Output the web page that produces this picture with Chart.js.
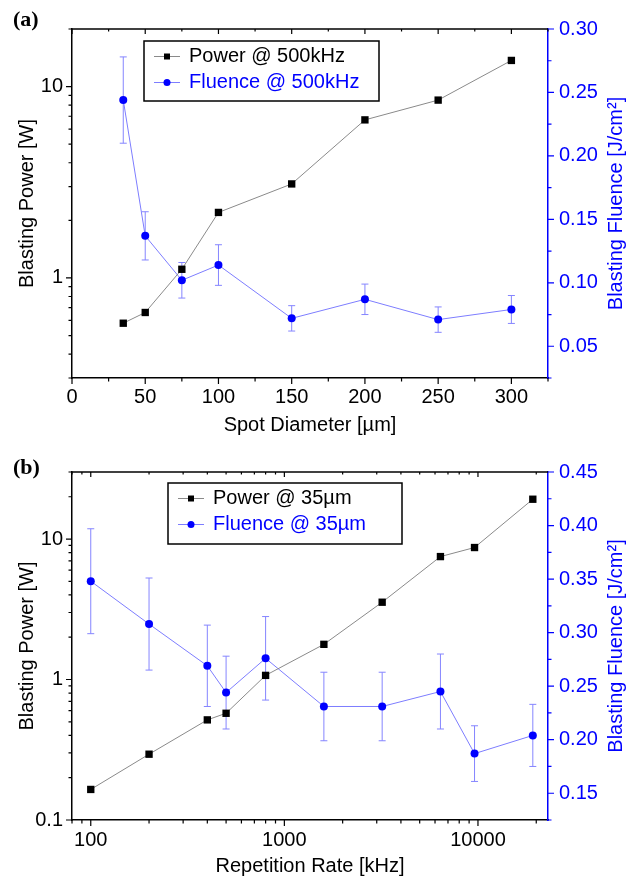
<!DOCTYPE html>
<html>
<head>
<meta charset="utf-8">
<script src="https://cdn.jsdelivr.net/npm/chart.js"></script>
<style>
  html, body { margin: 0; padding: 0; background: #fff; }
  canvas { display: block; }
</style>
</head>
<body>
<canvas id="chartA" width="637" height="439"></canvas>
<canvas id="chartB" width="637" height="439"></canvas>
<script>
// (a) spot diameter sweep @ 500kHz
const spotDiameters = [35, 50, 75, 100, 150, 200, 250, 300];
const powerA = [0.58, 0.66, 1.11, 2.2, 3.1, 6.7, 8.5, 13.7];
const fluenceA = [0.244, 0.137, 0.102, 0.114, 0.072, 0.087, 0.071, 0.079];
const fluenceErrA = [0.034, 0.019, 0.014, 0.016, 0.010, 0.012, 0.010, 0.011];

// (b) repetition rate sweep @ 35um
const repRates = [100, 200, 400, 500, 800, 1600, 3200, 6400, 9600, 19200];
const powerB = [0.165, 0.294, 0.516, 0.575, 1.07, 1.78, 3.55, 7.5, 8.7, 19.2];
const fluenceB = [0.348, 0.308, 0.269, 0.244, 0.276, 0.231, 0.231, 0.245, 0.187, 0.204];
const fluenceErrB = [0.049, 0.043, 0.038, 0.034, 0.039, 0.032, 0.032, 0.035, 0.026, 0.029];

// tick labels
const spotTicks = [0, 50, 100, 150, 200, 250, 300];
const powerTicksA = [1, 10];
const fluenceTicksA = [0.05, 0.10, 0.15, 0.20, 0.25, 0.30];
const rateTicks = [100, 1000, 10000];
const powerTicksB = [0.1, 1, 10];
const fluenceTicksB = [0.15, 0.20, 0.25, 0.30, 0.35, 0.40, 0.45];

const BLUE = '#0000ff';
Chart.defaults.font.family = "'Liberation Sans', Arial, sans-serif";
Chart.defaults.font.size = 20;
Chart.defaults.color = '#000';

function labelFrom(list, fmt) {
  return function (value) {
    const hit = list.find(l => Math.abs(l - value) < 1e-6 * Math.max(1, Math.abs(l)));
    return hit === undefined ? '' : fmt(hit);
  };
}

// only 1..9 x 10^n on the log axes
function wholeLogTicks(scale) {
  scale.ticks = scale.ticks.filter(t => {
    const m = t.value / Math.pow(10, Math.floor(Math.log10(t.value) + 1e-9));
    return Math.abs(m - Math.round(m)) < 1e-6;
  });
}

// error bars under the fluence points
const errorBars = {
  id: 'errorBars',
  beforeDatasetsDraw(chart) {
    const ctx = chart.ctx;
    chart.data.datasets.forEach((ds, di) => {
      if (!ds.errors) return;
      const ys = chart.scales[ds.yAxisID];
      const meta = chart.getDatasetMeta(di);
      ctx.save();
      ctx.strokeStyle = '#8585ff';
      ctx.lineWidth = 1;
      ctx.beginPath();
      meta.data.forEach((pt, i) => {
        const v = ds.data[i].y, e = ds.errors[i];
        const top = ys.getPixelForValue(v + e), bot = ys.getPixelForValue(v - e);
        ctx.moveTo(pt.x, top); ctx.lineTo(pt.x, bot);
        ctx.moveTo(pt.x - 3.5, top); ctx.lineTo(pt.x + 3.5, top);
        ctx.moveTo(pt.x - 3.5, bot); ctx.lineTo(pt.x + 3.5, bot);
      });
      ctx.stroke();
      ctx.restore();
    });
  }
};

// tick marks, top frame, legend box, right title, panel letter
const frame = {
  id: 'frame',
  afterDraw(chart, args, opts) {
    const { ctx, chartArea: a, scales } = chart;
    const len = t => (t.label !== '' ? 6 : 3.5);
    ctx.save();
    ctx.lineWidth = 1.2;
    ctx.strokeStyle = '#000';
    ctx.beginPath();
    scales.x.ticks.forEach(t => {
      const px = scales.x.getPixelForValue(t.value);
      ctx.moveTo(px, a.bottom); ctx.lineTo(px, a.bottom + len(t));
      ctx.moveTo(px, a.top); ctx.lineTo(px, a.top + len(t) - 1);
    });
    scales.y.ticks.forEach(t => {
      const py = scales.y.getPixelForValue(t.value);
      ctx.moveTo(a.left - len(t), py); ctx.lineTo(a.left, py);
    });
    ctx.stroke();
    ctx.lineWidth = 1.5;
    ctx.beginPath();
    ctx.moveTo(a.left, a.top); ctx.lineTo(a.right, a.top);
    ctx.stroke();

    ctx.strokeStyle = BLUE;
    ctx.lineWidth = 1.2;
    ctx.beginPath();
    scales.y1.ticks.forEach(t => {
      const py = scales.y1.getPixelForValue(t.value);
      ctx.moveTo(a.right, py); ctx.lineTo(a.right + len(t), py);
    });
    ctx.stroke();

    // legend
    const bx = a.left + opts.legend.dx, by = a.top + opts.legend.dy;
    ctx.fillStyle = '#fff';
    ctx.fillRect(bx, by, opts.legend.w, opts.legend.h);
    ctx.strokeStyle = '#000';
    ctx.lineWidth = 1.5;
    ctx.strokeRect(bx, by, opts.legend.w, opts.legend.h);
    ctx.font = "20px 'Liberation Sans', Arial, sans-serif";
    ctx.textBaseline = 'middle';
    ctx.textAlign = 'left';
    chart.data.datasets.forEach((ds, i) => {
      const cy = by + 15.5 + i * 26;
      ctx.strokeStyle = ds.borderColor;
      ctx.lineWidth = 1;
      ctx.beginPath();
      ctx.moveTo(bx + 10, cy); ctx.lineTo(bx + 36, cy);
      ctx.stroke();
      ctx.fillStyle = ds.pointBackgroundColor;
      if (ds.pointStyle === 'rect') {
        ctx.fillRect(bx + 23 - 3, cy - 3, 6, 6);
      } else {
        ctx.beginPath();
        ctx.arc(bx + 23, cy, 3.5, 0, Math.PI * 2);
        ctx.fill();
      }
      ctx.fillText(ds.label, bx + 45, cy);
    });

    // right axis title, reads bottom-up
    ctx.save();
    ctx.translate(chart.width - 21, (a.top + a.bottom) / 2);
    ctx.rotate(-Math.PI / 2);
    ctx.textAlign = 'center';
    ctx.fillStyle = BLUE;
    ctx.fillText('Blasting Fluence [J/cm²]', 0, 0);
    ctx.restore();

    // panel letter
    ctx.font = "bold 22px 'Liberation Serif', 'Times New Roman', serif";
    ctx.textBaseline = 'alphabetic';
    ctx.fillStyle = '#000';
    ctx.fillText(opts.letter, 13, opts.letterY);
    ctx.restore();
  }
};

function axisTitle(text, pad) {
  return { display: true, text: text, color: '#000', font: { size: 20 }, padding: pad };
}

new Chart(document.getElementById('chartA'), {
  type: 'line',
  data: {
    datasets: [{
      label: 'Power @ 500kHz',
      data: spotDiameters.map((d, i) => ({ x: d, y: powerA[i] })),
      yAxisID: 'y',
      borderColor: '#8a8a8a',
      borderWidth: 1,
      pointStyle: 'rect',
      pointRadius: 5.2,
      pointBorderWidth: 0,
      pointBackgroundColor: '#000',
      pointBorderColor: '#000'
    }, {
      label: 'Fluence @ 500kHz',
      data: spotDiameters.map((d, i) => ({ x: d, y: fluenceA[i] })),
      errors: fluenceErrA,
      yAxisID: 'y1',
      borderColor: '#7d7dff',
      borderWidth: 1,
      pointStyle: 'circle',
      pointRadius: 4,
      pointBorderWidth: 0,
      pointBackgroundColor: BLUE,
      pointBorderColor: BLUE
    }]
  },
  options: {
    responsive: false,
    animation: false,
    events: [],
    layout: { padding: { top: 29, left: 0, right: 0, bottom: 0 } },
    plugins: {
      legend: { display: false },
      tooltip: { enabled: false },
      frame: { letter: '(a)', letterY: 26, legend: { dx: 72, dy: 12, w: 235, h: 60 } }
    },
    scales: {
      x: {
        type: 'linear', min: 0, max: 325,
        grid: { display: false, drawTicks: false },
        border: { color: '#000', width: 1.5 },
        ticks: { stepSize: 25, autoSkip: false, maxRotation: 0, padding: 7,
          callback: labelFrom(spotTicks, v => String(v)) },
        title: axisTitle('Spot Diameter [µm]', { top: 0, bottom: 2 }),
        afterFit: s => { s.height = 61; }
      },
      y: {
        type: 'logarithmic', position: 'left', min: 0.3, max: 20,
        grid: { display: false, drawTicks: false },
        border: { color: '#000', width: 1.5 },
        ticks: { autoSkip: false, padding: 9,
          callback: labelFrom(powerTicksA, v => String(v)) },
        title: axisTitle('Blasting Power [W]', { top: 15, bottom: 0 }),
        afterBuildTicks: wholeLogTicks,
        afterFit: s => { s.width = 72; }
      },
      y1: {
        type: 'linear', position: 'right', min: 0.025, max: 0.30,
        grid: { display: false, drawTicks: false },
        border: { color: BLUE, width: 1.5 },
        ticks: { stepSize: 0.025, autoSkip: false, padding: 11, color: BLUE,
          callback: labelFrom(fluenceTicksA, v => v.toFixed(2)) },
        afterFit: s => { s.width = 89; }
      }
    }
  },
  plugins: [errorBars, frame]
});

new Chart(document.getElementById('chartB'), {
  type: 'line',
  data: {
    datasets: [{
      label: 'Power @ 35µm',
      data: repRates.map((r, i) => ({ x: r, y: powerB[i] })),
      yAxisID: 'y',
      borderColor: '#8a8a8a',
      borderWidth: 1,
      pointStyle: 'rect',
      pointRadius: 5.2,
      pointBorderWidth: 0,
      pointBackgroundColor: '#000',
      pointBorderColor: '#000'
    }, {
      label: 'Fluence @ 35µm',
      data: repRates.map((r, i) => ({ x: r, y: fluenceB[i] })),
      errors: fluenceErrB,
      yAxisID: 'y1',
      borderColor: '#7d7dff',
      borderWidth: 1,
      pointStyle: 'circle',
      pointRadius: 4,
      pointBorderWidth: 0,
      pointBackgroundColor: BLUE,
      pointBorderColor: BLUE
    }]
  },
  options: {
    responsive: false,
    animation: false,
    events: [],
    layout: { padding: { top: 33, left: 0, right: 0, bottom: 0 } },
    plugins: {
      legend: { display: false },
      tooltip: { enabled: false },
      frame: { letter: '(b)', letterY: 35, legend: { dx: 96, dy: 11, w: 234, h: 61 } }
    },
    scales: {
      x: {
        type: 'logarithmic', min: 80, max: 23000,
        grid: { display: false, drawTicks: false },
        border: { color: '#000', width: 1.5 },
        ticks: { autoSkip: false, maxRotation: 0, padding: 8,
          callback: labelFrom(rateTicks, v => String(v)) },
        title: axisTitle('Repetition Rate [kHz]', { top: 0, bottom: 0 }),
        afterBuildTicks: wholeLogTicks,
        afterFit: s => { s.height = 58; }
      },
      y: {
        type: 'logarithmic', position: 'left', min: 0.1, max: 30,
        grid: { display: false, drawTicks: false },
        border: { color: '#000', width: 1.5 },
        ticks: { autoSkip: false, padding: 9,
          callback: labelFrom(powerTicksB, v => String(v)) },
        title: axisTitle('Blasting Power [W]', { top: 15, bottom: 0 }),
        afterBuildTicks: wholeLogTicks,
        afterFit: s => { s.width = 72; }
      },
      y1: {
        type: 'linear', position: 'right', min: 0.125, max: 0.45,
        grid: { display: false, drawTicks: false },
        border: { color: BLUE, width: 1.5 },
        ticks: { stepSize: 0.025, autoSkip: false, padding: 11, color: BLUE,
          callback: labelFrom(fluenceTicksB, v => v.toFixed(2)) },
        afterFit: s => { s.width = 89; }
      }
    }
  },
  plugins: [errorBars, frame]
});
</script>
</body>
</html>
